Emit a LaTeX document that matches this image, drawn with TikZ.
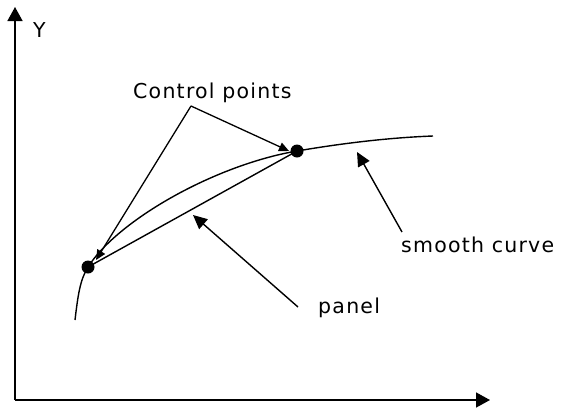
\documentclass[tikz,border=0pt]{standalone}
\usepackage{fontspec}
\setmainfont{DejaVu Sans}[LetterSpace=6]
\usetikzlibrary{arrows.meta}
\tikzset{
  axis/.style={line width=1.5pt, -{Triangle[length=14pt,width=15pt]}},
  pointer/.style={line width=1.4pt, -{Triangle[length=14pt,width=13pt]}},
  leader/.style={line width=1.3pt, -{Triangle[length=10pt,width=9pt]}},
  thinline/.style={line width=1.4pt},
  cpoint/.style={circle, fill=black, inner sep=0pt, minimum size=13pt},
  lbl/.style={inner sep=0pt, font=\fontsize{20.5}{22}\selectfont, anchor=base west}
}
\begin{document}
\begin{tikzpicture}[x=1pt, y=-1pt]
  \useasboundingbox (0,0) rectangle (561,410);

  % axes
  \coordinate (O) at (15,400);
  \coordinate (ytop) at (15,7);
  \coordinate (xend) at (490,400);
  \draw[axis] (O) -- (ytop);
  \draw[axis] (O) -- (xend);
  \node[lbl] (ylab) at (33,37) {Y};

  % control points
  \node[cpoint] (p1) at (88,267) {};
  \node[cpoint] (p2) at (297,151) {};

  % smooth curve through the control points
  \coordinate (cstart) at (75,320);
  \coordinate (cend) at (433,136);
  \draw[thinline] (cstart) .. controls (78,295) and (80,280) .. (p1.center)
    .. controls (118,220) and (215,165) .. (p2.center)
    .. controls (330,145.4) and (380,138) .. (cend);

  % panel: straight chord between the control points
  \draw[thinline] (p1.center) -- (p2.center);

  % labels
  \node[lbl] (cp) at (133,98) {Control points};
  \node[lbl] (sc) at (401,252) {smooth curve};
  \node[lbl] (pn) at (318,313) {panel};

  % leaders from the "Control points" label
  \coordinate (apex) at (191,106);
  \coordinate (tip1) at (96,260);
  \coordinate (tip2) at (289,151);
  \draw[leader] (apex) -- (tip1);
  \draw[leader] (apex) -- (tip2);

  % pointers to the curve and the panel
  \coordinate (sctail) at (402,232);
  \coordinate (sctip) at (357,152);
  \coordinate (pntail) at (298,307);
  \coordinate (pntip) at (193,215);
  \draw[pointer] (sctail) -- (sctip);
  \draw[pointer] (pntail) -- (pntip);
\end{tikzpicture}
\end{document}
